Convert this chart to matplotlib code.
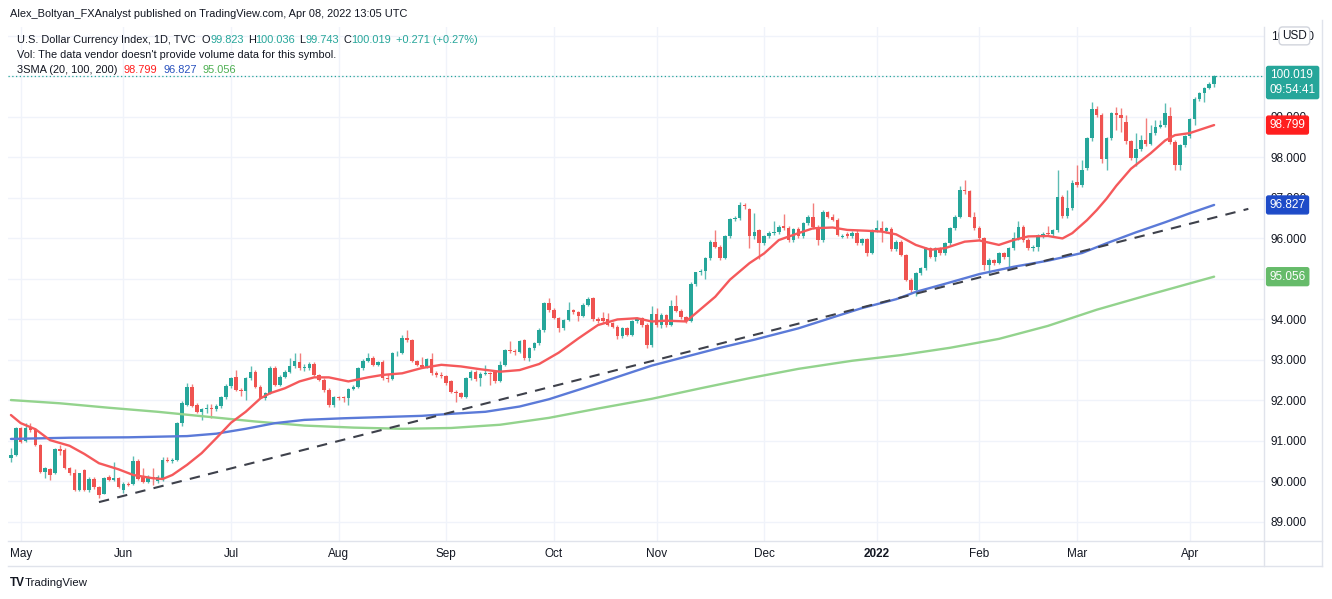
import matplotlib
matplotlib.use('Agg')
import matplotlib.pyplot as plt
import numpy as np
import pandas as pd

plt.rcParams['font.family'] = ['Liberation Sans', 'DejaVu Sans']

# ---------------- data ----------------
dates = pd.bdate_range('2021-04-29', '2022-04-08')

opens = [90.57, 90.65, 91.31, 91.00, 91.31, 91.27, 90.90, 90.24, 90.30, 90.20,
         90.80, 90.78, 90.32, 90.20, 89.79, 90.28, 89.79, 90.05, 89.87, 89.70,
         90.10, 90.04, 90.08, 89.80, 89.94, 89.94, 90.50, 90.10, 89.99, 90.12,
         90.00, 90.04, 90.53, 90.50, 90.53, 91.44, 91.90, 92.34, 91.89, 91.72,
         91.78, 91.82, 91.80, 91.86, 92.08, 92.36, 92.57, 92.26, 92.24, 92.55,
         92.71, 92.34, 92.07, 92.18, 92.81, 92.38, 92.59, 92.71, 92.84, 92.96,
         92.79, 92.80, 92.90, 92.63, 92.51, 92.26, 91.89, 92.08, 92.08, 92.06,
         92.28, 92.34, 92.79, 92.98, 93.06, 92.88, 92.95, 92.55, 92.52, 93.16,
         93.18, 93.55, 93.49, 92.98, 92.88, 92.83, 93.03, 92.67, 92.64, 92.60,
         92.47, 92.22, 92.18, 92.09, 92.55, 92.71, 92.55, 92.65, 92.67, 92.71,
         92.47, 92.88, 93.25, 93.22, 93.20, 93.49, 93.04, 93.29, 93.41, 93.74,
         94.40, 94.23, 94.03, 93.78, 93.99, 94.23, 94.19, 94.09, 94.36, 94.53,
         94.00, 94.03, 94.00, 93.90, 93.82, 93.58, 93.78, 93.62, 93.95, 94.03,
         93.86, 93.37, 94.13, 93.86, 94.11, 93.86, 94.33, 94.22, 94.05, 93.95,
         94.88, 95.16, 95.20, 95.51, 95.92, 95.80, 95.51, 96.05, 96.47, 96.50,
         96.83, 96.72, 96.05, 96.20, 95.88, 96.05, 96.13, 96.16, 96.30, 96.26,
         95.96, 96.23, 96.05, 96.37, 96.54, 96.29, 95.96, 96.66, 96.54, 96.46,
         96.03, 96.12, 96.06, 96.14, 95.88, 95.98, 95.65, 96.21, 96.25, 96.19,
         96.23, 95.73, 95.92, 95.59, 94.98, 94.73, 95.14, 95.26, 95.76, 95.55,
         95.76, 95.63, 95.88, 96.25, 96.54, 97.20, 97.16, 96.54, 96.25, 96.00,
         95.35, 95.47, 95.39, 95.63, 95.55, 95.76, 96.00, 96.28, 95.96, 95.76,
         95.80, 96.09, 96.14, 96.12, 96.20, 97.03, 96.55, 96.75, 97.40, 97.32,
         97.75, 98.47, 99.19, 99.05, 97.96, 98.47, 99.09, 99.05, 98.88, 98.40,
         97.98, 98.20, 98.43, 98.33, 98.60, 98.76, 98.80, 99.03, 98.39, 97.82,
         98.30, 98.53, 98.94, 99.44, 99.58, 99.71, 99.823]
highs = [90.82, 91.35, 91.35, 91.44, 91.44, 91.33, 90.93, 90.35, 90.34, 90.82,
         90.90, 90.82, 90.36, 90.30, 90.22, 90.31, 90.10, 90.10, 89.90, 90.12,
         90.16, 90.49, 90.12, 89.98, 89.98, 90.63, 90.56, 90.33, 90.16, 90.33,
         90.16, 90.60, 90.60, 90.58, 91.46, 91.98, 92.42, 92.40, 91.93, 91.82,
         91.92, 91.92, 91.92, 92.12, 92.40, 92.58, 92.75, 92.30, 92.58, 92.84,
         92.75, 92.38, 92.22, 92.85, 92.85, 92.62, 92.75, 93.04, 93.16, 93.18,
         92.90, 92.96, 92.94, 92.66, 92.55, 92.30, 92.10, 92.12, 92.12, 92.30,
         92.38, 92.82, 93.02, 93.16, 93.10, 92.98, 93.00, 92.65, 93.20, 93.22,
         93.62, 93.74, 93.52, 93.00, 93.08, 93.06, 93.16, 92.72, 92.70, 92.62,
         92.50, 92.26, 92.22, 92.58, 92.75, 92.76, 92.70, 92.88, 92.70, 92.74,
         92.98, 93.28, 93.47, 93.26, 93.50, 93.52, 93.32, 93.45, 93.78, 94.44,
         94.52, 94.28, 94.06, 94.02, 94.44, 94.27, 94.22, 94.40, 94.56, 94.55,
         94.05, 94.19, 94.17, 93.94, 93.86, 93.82, 93.82, 93.99, 94.06, 94.06,
         93.90, 94.32, 94.28, 94.15, 94.14, 94.48, 94.60, 94.26, 94.08, 94.92,
         95.18, 95.24, 95.55, 95.96, 96.20, 95.84, 96.08, 96.50, 96.56, 96.91,
         96.88, 96.76, 96.62, 96.24, 96.08, 96.18, 96.43, 96.33, 96.60, 96.30,
         96.26, 96.27, 96.40, 96.58, 96.88, 96.33, 96.70, 96.68, 96.60, 96.50,
         96.10, 96.16, 96.18, 96.20, 96.02, 96.02, 96.24, 96.46, 96.42, 96.28,
         96.27, 95.96, 95.96, 95.62, 95.02, 95.16, 95.30, 95.80, 95.80, 95.78,
         95.80, 95.92, 96.29, 96.58, 97.30, 97.44, 97.20, 96.66, 96.30, 96.04,
         95.52, 95.50, 95.66, 95.67, 95.80, 96.17, 96.42, 96.32, 96.00, 95.84,
         96.12, 96.16, 96.30, 96.24, 97.69, 97.06, 97.20, 97.44, 97.81, 97.93,
         98.50, 99.38, 99.26, 99.10, 98.50, 99.13, 99.25, 99.21, 99.05, 98.44,
         98.60, 98.56, 98.97, 98.80, 98.93, 98.93, 99.34, 99.25, 98.44, 98.34,
         98.56, 98.98, 99.48, 99.62, 99.75, 99.86, 100.036]
lows = [90.49, 90.63, 90.96, 90.98, 91.23, 90.88, 90.22, 90.08, 90.04, 90.18,
        90.65, 90.30, 90.15, 89.77, 89.77, 89.77, 89.74, 89.82, 89.58, 89.68,
        90.00, 90.00, 89.84, 89.71, 89.88, 89.92, 90.04, 89.96, 89.97, 89.91,
        89.97, 90.00, 90.47, 90.46, 90.50, 91.38, 91.86, 91.84, 91.68, 91.52,
        91.70, 91.56, 91.74, 91.82, 92.04, 92.30, 92.24, 92.10, 92.00, 92.50,
        92.30, 92.05, 92.02, 92.15, 92.35, 92.36, 92.55, 92.68, 92.80, 92.75,
        92.72, 92.76, 92.60, 92.48, 92.22, 91.85, 91.85, 92.00, 91.95, 91.90,
        92.25, 92.30, 92.75, 92.95, 92.85, 92.84, 92.50, 92.45, 92.50, 93.10,
        93.15, 93.45, 92.95, 92.84, 92.80, 92.80, 92.64, 92.58, 92.55, 92.38,
        92.18, 91.97, 92.05, 92.05, 92.50, 92.48, 92.35, 92.62, 92.38, 92.44,
        92.45, 92.85, 93.18, 93.12, 93.18, 93.00, 92.98, 93.25, 93.38, 93.70,
        94.18, 94.00, 93.70, 93.74, 93.96, 94.14, 93.95, 94.05, 94.32, 93.96,
        93.90, 93.92, 93.84, 93.78, 93.52, 93.54, 93.58, 93.60, 93.92, 93.82,
        93.29, 93.33, 93.82, 93.80, 93.82, 93.84, 94.18, 94.00, 93.90, 93.93,
        94.82, 95.10, 95.00, 95.46, 95.76, 95.46, 95.48, 96.02, 96.42, 96.46,
        96.72, 95.76, 95.98, 95.50, 95.84, 96.00, 96.08, 96.10, 96.22, 95.92,
        95.92, 96.00, 96.00, 96.32, 96.24, 95.84, 95.92, 96.50, 96.42, 96.05,
        96.00, 96.02, 96.02, 95.84, 95.84, 95.56, 95.62, 96.16, 95.90, 96.14,
        95.68, 95.70, 95.56, 94.96, 94.65, 94.57, 95.10, 95.22, 95.52, 95.45,
        95.60, 95.60, 95.84, 96.20, 96.50, 97.10, 96.52, 96.22, 95.96, 95.22,
        95.10, 95.34, 95.36, 95.50, 95.22, 95.72, 95.96, 95.92, 95.72, 95.70,
        95.68, 96.02, 96.08, 96.06, 96.16, 96.50, 96.50, 96.70, 97.28, 97.28,
        97.70, 98.40, 99.00, 97.86, 97.70, 98.44, 98.68, 98.64, 98.34, 97.94,
        97.78, 98.16, 98.28, 98.30, 98.56, 98.72, 98.76, 98.34, 97.69, 97.69,
        98.26, 98.48, 98.80, 99.40, 99.37, 99.68, 99.743]
closes = [90.65, 91.31, 90.98, 91.31, 91.27, 90.90, 90.24, 90.32, 90.16, 90.80,
          90.76, 90.32, 90.20, 89.79, 90.20, 89.79, 90.05, 89.87, 89.67, 90.08,
          90.04, 90.08, 89.86, 89.94, 89.92, 90.50, 90.06, 89.99, 90.12, 90.09,
          90.12, 90.53, 90.50, 90.54, 91.44, 91.93, 92.34, 91.86, 91.72, 91.78,
          91.82, 91.80, 91.86, 92.08, 92.36, 92.55, 92.26, 92.24, 92.55, 92.71,
          92.34, 92.07, 92.18, 92.79, 92.38, 92.59, 92.71, 92.84, 92.98, 92.79,
          92.82, 92.90, 92.63, 92.51, 92.26, 91.89, 92.08, 92.06, 92.06, 92.28,
          92.34, 92.79, 92.98, 93.06, 92.88, 92.95, 92.55, 92.52, 93.16, 93.18,
          93.55, 93.49, 92.98, 92.88, 92.83, 93.03, 92.67, 92.62, 92.60, 92.44,
          92.22, 92.18, 92.09, 92.55, 92.71, 92.52, 92.65, 92.67, 92.65, 92.47,
          92.88, 93.25, 93.22, 93.20, 93.47, 93.04, 93.29, 93.41, 93.74, 94.40,
          94.23, 94.03, 93.78, 93.99, 94.23, 94.19, 94.09, 94.36, 94.50, 94.00,
          93.97, 93.97, 93.86, 93.82, 93.58, 93.78, 93.62, 93.95, 94.03, 93.86,
          93.37, 94.13, 93.86, 94.11, 93.86, 94.33, 94.22, 94.05, 93.95, 94.88,
          95.16, 95.20, 95.51, 95.92, 95.80, 95.51, 96.05, 96.47, 96.50, 96.83,
          96.80, 96.05, 96.17, 95.88, 96.05, 96.13, 96.16, 96.29, 96.26, 95.96,
          96.23, 96.05, 96.37, 96.54, 96.29, 95.96, 96.66, 96.54, 96.46, 96.09,
          96.06, 96.06, 96.14, 95.88, 95.98, 95.65, 96.21, 96.25, 96.19, 96.25,
          95.73, 95.92, 95.59, 94.98, 94.73, 95.14, 95.26, 95.76, 95.55, 95.76,
          95.63, 95.88, 96.25, 96.54, 97.20, 97.16, 96.54, 96.25, 96.00, 95.35,
          95.47, 95.39, 95.63, 95.55, 95.76, 96.00, 96.28, 95.96, 95.76, 95.80,
          96.09, 96.12, 96.12, 96.20, 97.03, 96.55, 96.75, 97.36, 97.32, 97.69,
          98.47, 99.19, 99.05, 97.96, 98.47, 99.09, 99.05, 98.97, 98.40, 97.98,
          98.20, 98.43, 98.33, 98.60, 98.76, 98.80, 99.09, 98.39, 97.82, 98.30,
          98.53, 98.94, 99.44, 99.58, 99.71, 99.82, 100.019]

# moving averages (bar number, value)
sma20_bar = [0, 2, 5, 8, 12, 15, 18, 22, 25, 29, 31, 33, 36, 39, 42, 45, 48, 51, 53, 56,
             59, 62, 65, 69, 73, 76, 80, 84, 88, 92, 96, 100, 104, 108, 112, 116, 120,
             124, 128, 131, 134, 138, 140, 144, 147, 151, 154, 157, 161, 164, 168, 171,
             175, 178, 181, 185, 188, 191, 195, 198, 202, 205, 208, 212, 215, 217, 220,
             222, 224, 226, 229, 233, 236, 238, 241, 243, 246]
sma20_val = [91.64, 91.44, 91.29, 91.02, 90.88, 90.68, 90.45, 90.30, 90.16, 90.08, 90.06,
             90.16, 90.41, 90.70, 91.07, 91.45, 91.72, 92.05, 92.18, 92.30, 92.47, 92.57,
             92.57, 92.47, 92.57, 92.63, 92.67, 92.80, 92.88, 92.84, 92.77, 92.71, 92.75,
             92.90, 93.18, 93.53, 93.86, 94.00, 94.03, 93.95, 93.97, 93.95, 94.15, 94.56,
             94.98, 95.39, 95.63, 95.96, 96.13, 96.25, 96.27, 96.21, 96.19, 96.17, 96.10,
             95.84, 95.72, 95.76, 95.92, 95.95, 95.84, 95.96, 96.05, 96.06, 96.00, 96.13,
             96.45, 96.70, 96.98, 97.30, 97.72, 98.10, 98.42, 98.55, 98.60, 98.68, 98.799]
sma100_bar = [0, 12, 24, 36, 42, 48, 54, 60, 68, 76, 84, 90, 97, 104, 110, 117, 124, 131,
              138, 145, 152, 161, 168, 174, 181, 185, 191, 198, 205, 212, 219, 224, 230,
              236, 241, 246]
sma100_val = [91.05, 91.08, 91.09, 91.12, 91.18, 91.30, 91.44, 91.52, 91.56, 91.59, 91.62,
              91.67, 91.72, 91.85, 92.03, 92.30, 92.58, 92.86, 93.08, 93.30, 93.50, 93.78,
              94.05, 94.28, 94.50, 94.68, 94.88, 95.12, 95.30, 95.45, 95.64, 95.88, 96.15,
              96.40, 96.62, 96.827]
sma200_bar = [0, 10, 20, 30, 40, 50, 60, 70, 80, 90, 100, 110, 120, 131, 141, 151, 161,
              172, 182, 192, 202, 212, 222, 233, 246]
sma200_val = [92.01, 91.93, 91.82, 91.72, 91.60, 91.48, 91.38, 91.33, 91.30, 91.32, 91.40,
              91.57, 91.80, 92.04, 92.30, 92.55, 92.78, 92.98, 93.12, 93.30, 93.52, 93.84,
              94.24, 94.62, 95.056]

trend_bar = [18, 253]
trend_val = [89.49, 96.73]

month_dates = ['2021-05-03', '2021-06-01', '2021-07-01', '2021-08-02', '2021-09-01',
               '2021-10-01', '2021-11-01', '2021-12-01', '2022-01-03', '2022-02-01',
               '2022-03-01', '2022-04-01']
month_labels = ['May', 'Jun', 'Jul', 'Aug', 'Sep', 'Oct', 'Nov', 'Dec', '2022', 'Feb',
                'Mar', 'Apr']
price_ticks = [89, 90, 91, 92, 93, 94, 95, 96, 97, 98, 99, 100, 101]
hidden_ticks = [95, 100]   # fully covered by the value boxes in the original

# ---------------- figure ----------------
W, H = 1332, 599
fig = plt.figure(figsize=(W / 100, H / 100), dpi=100)
fig.patch.set_facecolor('white')
renderer = fig.canvas.get_renderer()


def px_rect(x0, y0, x1, y1):
    return [x0 / W, 1 - y1 / H, (x1 - x0) / W, (y1 - y0) / H]


def ftext(x, y, s, **kw):
    kw.setdefault('va', 'center')
    kw.setdefault('ha', 'left')
    return fig.text(x / W, 1 - y / H, s, **kw)


def seq_text(x, y, pieces, fs):
    """place text pieces one after another: (text, colour, gap_after_px)"""
    for s, col, gap in pieces:
        t = ftext(x, y, s, fontsize=fs, color=col)
        bb = t.get_window_extent(renderer)
        x += bb.width + gap


UP, DN = '#26a69a', '#ef5350'
TXT = '#131722'
GRID = '#f0f3fa'

ax = fig.add_axes(px_rect(8, 27, 1264, 541))
ax.set_xlim(-0.6, 256.2)
ax.set_ylim(88.53, 101.22)

n = len(closes)
x = np.arange(n)
o = np.array(opens); h = np.array(highs); l = np.array(lows); c = np.array(closes)
up = c >= o
cols = np.where(up, UP, DN)

ax.vlines(x, l, h, colors=cols, linewidth=1.0, alpha=0.75, zorder=3)
body_bottom = np.minimum(o, c)
body_h = np.maximum(np.abs(c - o), 0.02)
ax.bar(x, body_h, bottom=body_bottom, width=0.72, color=cols, linewidth=0, zorder=4)

ax.plot(sma200_bar, sma200_val, color='#93d38d', lw=1.7, zorder=5, solid_capstyle='round')
ax.plot(sma100_bar, sma100_val, color='#5b7ad8', lw=1.7, zorder=5, solid_capstyle='round')
ax.plot(sma20_bar, sma20_val, color='#f5595b', lw=1.7, zorder=5, solid_capstyle='round')
ax.plot(trend_bar, trend_val, color='#3e414b', lw=1.5, dashes=(5, 4), zorder=6)

# last price dotted line
ax.axhline(closes[-1], color=UP, lw=0.9, ls=(0, (1, 2)), zorder=2)

# grid
month_pos = [dates.get_loc(pd.Timestamp(d)) for d in month_dates]
for p in price_ticks:
    ax.axhline(p, color=GRID, lw=1, zorder=0)
for mp in month_pos:
    ax.axvline(mp, color=GRID, lw=1, zorder=0)

# axes styling
for s in ['top', 'left', 'bottom', 'right']:
    ax.spines[s].set_color('#e0e3eb')
    ax.spines[s].set_linewidth(1)
ax.spines['top'].set_visible(False)
ax.spines['left'].set_visible(False)

ax.yaxis.tick_right()
ax.set_yticks(price_ticks)
ax.set_yticklabels(['' if p in hidden_ticks else f'{p:.3f}' for p in price_ticks])
ax.tick_params(axis='y', length=0, pad=5, labelsize=8.5, labelcolor=TXT)
ax.set_xticks(month_pos)
ax.set_xticklabels(month_labels)
ax.tick_params(axis='x', length=0, pad=5, labelsize=8.5, labelcolor=TXT)
for lab in ax.get_xticklabels():
    if lab.get_text() == '2022':
        lab.set_fontweight('bold')

# outer frame of the chart pane
fig.add_artist(plt.Line2D([1264 / W, 1322 / W], [1 - 541 / H, 1 - 541 / H], color='#e0e3eb', lw=1))
fig.add_artist(plt.Line2D([1322 / W, 1322 / W], [1 - 20 / H, 1 - 566 / H], color='#e0e3eb', lw=1))
fig.add_artist(plt.Line2D([8 / W, 1322 / W], [1 - 566 / H, 1 - 566 / H], color='#e0e3eb', lw=1))
fig.add_artist(plt.Line2D([1264 / W, 1264 / W], [1 - 541 / H, 1 - 566 / H], color='#e0e3eb', lw=1))


def price_box(val, text, fc):
    ax.annotate(text, xy=(1.0, val), xycoords=('axes fraction', 'data'),
                xytext=(4, 0), textcoords='offset points', ha='left', va='center',
                fontsize=8.5, color='white', linespacing=1.25, zorder=20,
                annotation_clip=False,
                bbox=dict(boxstyle='round,pad=0.25,rounding_size=0.15', fc=fc, ec=fc))


price_box(closes[-1] - 0.17, '100.019\n09:54:41', UP)
price_box(sma20_val[-1], '98.799', '#ff1e1e')
price_box(sma100_val[-1], '96.827', '#1e4bc8')
price_box(sma200_val[-1], '95.056', '#66bb6a')
ax.annotate('USD', xy=(1.0, 101.0), xycoords=('axes fraction', 'data'),
            xytext=(13, 0), textcoords='offset points', ha='left', va='center',
            fontsize=8.5, color=TXT, zorder=20, annotation_clip=False,
            bbox=dict(boxstyle='round,pad=0.25,rounding_size=0.3', fc='white', ec='#d1d4dc'))

# header texts
ftext(10, 14, 'Alex_Boltyan_FXAnalyst published on TradingView.com, Apr 08, 2022 13:05 UTC',
      fontsize=7.9, color=TXT)
FS = 7.9
seq_text(17, 40, [('U.S. Dollar Currency Index, 1D, TVC', TXT, 6),
                  ('O', TXT, 0), ('99.823', UP, 4),
                  ('H', TXT, 0), ('100.036', UP, 4),
                  ('L', TXT, 0), ('99.743', UP, 4),
                  ('C', TXT, 0), ('100.019', UP, 5),
                  ('+0.271 (+0.27%)', UP, 0)], FS)
ftext(17, 55, "Vol: The data vendor doesn't provide volume data for this symbol.",
      fontsize=FS, color=TXT)
seq_text(17, 70, [('3SMA (20, 100, 200)', TXT, 6), ('98.799', '#ff1e1e', 6),
                  ('96.827', '#2a52be', 6), ('95.056', '#4caf50', 0)], FS)

# TradingView footer
ftext(10, 583, 'TV', fontsize=8.5, color=TXT, fontweight='bold')
ftext(25, 583, 'TradingView', fontsize=8.2, color=TXT)

fig.savefig('out.png', dpi=100)
